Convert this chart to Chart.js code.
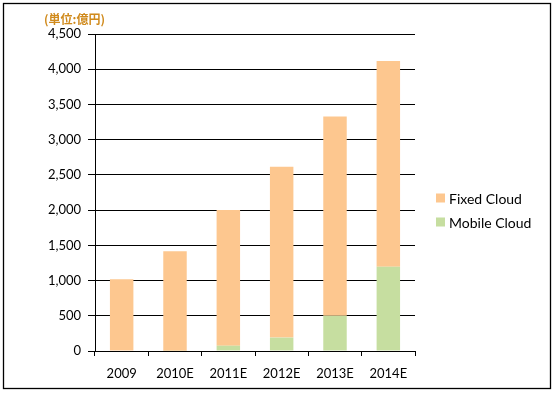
<!DOCTYPE html>
<html>
<head>
<meta charset="utf-8">
<script src="https://cdn.jsdelivr.net/npm/chart.js@4"></script>
<style>
  html, body { margin: 0; padding: 0; background: #fff; }
  #wrap { width: 554px; height: 393px; position: relative; }
</style>
</head>
<body>
<div id="wrap"><canvas id="myBarChart" width="554" height="393"></canvas></div>
<script>
const categories = ["2009", "2010E", "2011E", "2012E", "2013E", "2014E"];
const mobileCloud = [0, 5, 75, 190, 500, 1195];
const fixedCloud = [1020, 1410, 1925, 2425, 2830, 2920];
const unitLabel = "(単位:億円)";

const FONT = "Lato, 'Open Sans', sans-serif";

// frame, unit label and legend drawn on the canvas
const decorations = {
  id: "decorations",
  afterDraw(chart) {
    const ctx = chart.ctx;
    ctx.save();
    ctx.strokeStyle = "#000";
    ctx.lineWidth = 1.3;
    ctx.strokeRect(3.5, 3.5, 547, 385);

    ctx.fillStyle = "#D08A1C";
    ctx.font = "bold 12px 'Noto Sans CJK JP', sans-serif";
    ctx.textBaseline = "middle";
    ctx.fillText(unitLabel, 44, 19);

    // legend: Fixed on top, Mobile below
    const order = [1, 0];
    ctx.font = "14px " + FONT;
    order.forEach(function (di, i) {
      const ds = chart.data.datasets[di];
      const y = 198 + i * 24;
      ctx.fillStyle = ds.backgroundColor;
      ctx.fillRect(436, y - 4.5, 9, 9);
      ctx.fillStyle = "#000";
      ctx.fillText(ds.label, 449, y + 1);
    });
    ctx.restore();
  },
};

const ctx = document.getElementById("myBarChart").getContext("2d");
const myBarChart = new Chart(ctx, {
  type: "bar",
  data: {
    labels: categories,
    datasets: [
      {
        label: "Mobile Cloud",
        data: mobileCloud,
        backgroundColor: "#C6DEA0",
        barPercentage: 0.44,
        categoryPercentage: 1,
      },
      {
        label: "Fixed Cloud",
        data: fixedCloud,
        backgroundColor: "#FDC78F",
        barPercentage: 0.44,
        categoryPercentage: 1,
      },
    ],
  },
  options: {
    responsive: false,
    animation: false,
    layout: { padding: { left: 0, top: 34, right: 139, bottom: 0 } },
    plugins: {
      legend: { display: false },
      tooltip: { enabled: false },
    },
    scales: {
      x: {
        stacked: true,
        afterFit(scale) { scale.height = 42; },
        border: { color: "#000", width: 1 },
        grid: {
          drawOnChartArea: false,
          drawTicks: true,
          tickLength: 5,
          color: "#000",
        },
        ticks: {
          color: "#000",
          font: { family: FONT, size: 13 },
          padding: 10,
        },
      },
      y: {
        stacked: true,
        min: 0,
        max: 4500,
        afterFit(scale) { scale.width = 95; },
        border: { color: "#000", width: 1 },
        grid: {
          color: "#000",
          lineWidth: 1,
          tickLength: 7,
        },
        ticks: {
          stepSize: 500,
          color: "#000",
          padding: 7,
          font: { family: FONT, size: 13 },
          callback: function (v) { return v.toLocaleString("en-US"); },
        },
      },
    },
  },
  plugins: [decorations],
});
</script>
</body>
</html>
